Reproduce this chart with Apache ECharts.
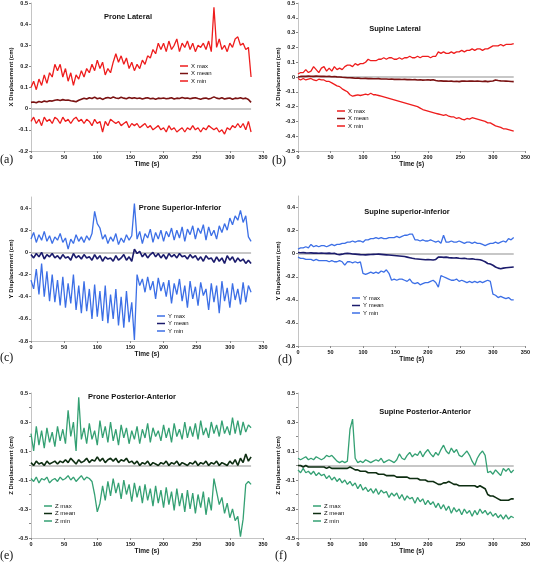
<!DOCTYPE html>
<html><head><meta charset="utf-8">
<script src="https://cdn.jsdelivr.net/npm/echarts@6/dist/echarts.min.js"></script>
<style>html,body{margin:0;padding:0;background:#fff}#c{width:533px;height:564px}</style>
</head><body><div id="c"></div><script>
const time=[0,4,8,12,16,20,24,28,32,36,40,44,48,52,56,60,64,68,72,76,80,84,88,92,96,100,104,108,112,116,120,124,128,132,136,140,144,148,152,156,160,164,168,172,176,180,184,188,192,196,200,204,208,212,216,220,224,228,232,236,240,244,248,252,256,260,264,268,272,276,280,284,288,292,296,300,304,308,312,316,320,324,328,332];

// (a) Prone Lateral
const xMaxProne=[0.10,0.13,0.09,0.14,0.11,0.16,0.12,0.17,0.15,0.21, 0.18,0.21,0.15,0.19,0.13,0.17,0.11,0.16,0.14,0.18, 0.15,0.19,0.17,0.21,0.18,0.23,0.19,0.22,0.16,0.19, 0.17,0.22,0.26,0.22,0.25,0.21,0.24,0.19,0.22,0.18, 0.21,0.19,0.23,0.21,0.25,0.24,0.28,0.26,0.31,0.28, 0.31,0.27,0.32,0.28,0.30,0.33,0.27,0.31,0.29,0.32, 0.28,0.31,0.27,0.30,0.29,0.31,0.28,0.32,0.27,0.48, 0.29,0.33,0.28,0.30,0.27,0.31,0.29,0.33,0.34,0.30, 0.31,0.28,0.29,0.15];
const xMeanProne=[0.030,0.032,0.028,0.034,0.031,0.036,0.033,0.038,0.036,0.040, 0.042,0.039,0.043,0.040,0.041,0.038,0.036,0.033,0.040,0.045, 0.050,0.046,0.052,0.048,0.055,0.047,0.051,0.044,0.050,0.053, 0.049,0.055,0.051,0.048,0.054,0.050,0.047,0.053,0.049,0.052, 0.048,0.051,0.046,0.050,0.052,0.047,0.049,0.045,0.050,0.048, 0.051,0.047,0.049,0.052,0.046,0.050,0.048,0.053,0.049,0.051, 0.047,0.050,0.052,0.048,0.045,0.049,0.051,0.046,0.050,0.056, 0.050,0.047,0.052,0.046,0.049,0.051,0.045,0.050,0.048,0.052, 0.047,0.050,0.044,0.030];
const xMinProne=[-0.06,-0.04,-0.07,-0.05,-0.08,-0.04,-0.06,-0.05,-0.07,-0.04, -0.05,-0.07,-0.04,-0.06,-0.05,-0.07,-0.05,-0.04,-0.06,-0.05, -0.07,-0.05,-0.06,-0.08,-0.05,-0.07,-0.06,-0.11,-0.06,-0.08, -0.05,-0.06,-0.07,-0.06,-0.08,-0.07,-0.06,-0.09,-0.07,-0.08, -0.07,-0.09,-0.08,-0.07,-0.09,-0.08,-0.10,-0.09,-0.08,-0.10, -0.09,-0.11,-0.08,-0.10,-0.09,-0.11,-0.10,-0.09,-0.11,-0.09, -0.10,-0.08,-0.10,-0.09,-0.11,-0.09,-0.10,-0.08,-0.09,-0.10, -0.09,-0.11,-0.10,-0.12,-0.09,-0.10,-0.08,-0.09,-0.07,-0.09, -0.07,-0.10,-0.06,-0.11];

// (b) Supine Lateral
const xMaxSupine=[0.02,0.03,0.03,0.05,0.03,0.04,0.07,0.05,0.03,0.06, 0.07,0.04,0.06,0.04,0.07,0.05,0.06,0.05,0.07,0.08, 0.08,0.07,0.09,0.08,0.09,0.09,0.10,0.12,0.11,0.11, 0.11,0.12,0.12,0.13,0.12,0.13,0.13,0.12,0.12,0.13, 0.12,0.13,0.13,0.14,0.13,0.13,0.14,0.13,0.14,0.14, 0.14,0.13,0.14,0.14,0.17,0.16,0.17,0.16,0.16,0.17, 0.16,0.17,0.17,0.18,0.17,0.18,0.18,0.19,0.18,0.19, 0.19,0.18,0.19,0.19,0.20,0.21,0.21,0.21,0.22,0.21, 0.22,0.22,0.22,0.225];
const xMeanSupine=[0.000,0.004,0.005,0.004,0.006,0.005,0.004,0.006,0.005,0.004, 0.005,0.003,0.004,0.002,0.003,0.001,0.000,-0.002,-0.003,-0.005, -0.005,-0.006,-0.008,-0.007,-0.009,-0.010,-0.009,-0.011,-0.010,-0.012, -0.012,-0.011,-0.013,-0.014,-0.013,-0.015,-0.014,-0.016,-0.015,-0.016, -0.017,-0.016,-0.018,-0.017,-0.019,-0.018,-0.020,-0.019,-0.021,-0.020, -0.019,-0.021,-0.018,-0.024,-0.027,-0.026,-0.028,-0.027,-0.029,-0.028, -0.030,-0.029,-0.031,-0.028,-0.027,-0.029,-0.028,-0.027,-0.029,-0.028, -0.029,-0.030,-0.028,-0.031,-0.029,-0.027,-0.020,-0.024,-0.026,-0.027, -0.028,-0.029,-0.030,-0.031];
const xMinSupine=[-0.01,-0.02,-0.01,-0.02,-0.015,-0.01,-0.02,-0.025,-0.015,-0.02, -0.02,-0.03,-0.03,-0.04,-0.05,-0.06,-0.065,-0.08,-0.09,-0.10, -0.12,-0.13,-0.125,-0.12,-0.125,-0.12,-0.115,-0.12,-0.11,-0.12, -0.12,-0.125,-0.13,-0.135,-0.14,-0.145,-0.15,-0.155,-0.16,-0.165, -0.17,-0.175,-0.18,-0.185,-0.19,-0.195,-0.20,-0.21,-0.22,-0.225, -0.23,-0.235,-0.24,-0.245,-0.25,-0.255,-0.26,-0.255,-0.265,-0.27, -0.27,-0.28,-0.275,-0.285,-0.29,-0.28,-0.285,-0.275,-0.28,-0.285, -0.29,-0.295,-0.30,-0.31,-0.31,-0.32,-0.33,-0.335,-0.34,-0.35, -0.35,-0.355,-0.36,-0.365];

// (c) Prone Superior-Inferior
const yMaxProne=[0.12,0.18,0.09,0.16,0.11,0.19,0.10,0.15,0.08,0.14, 0.11,0.17,0.09,0.13,0.03,0.12,0.08,0.16,0.10,0.14, 0.09,0.15,0.11,0.17,0.37,0.26,0.22,0.12,0.16,0.08, 0.14,0.10,0.17,0.07,0.13,0.09,0.16,0.11,0.15,0.44, 0.12,0.19,0.08,0.17,0.13,0.21,0.09,0.18,0.12,0.20, 0.10,0.19,0.14,0.22,0.11,0.20,0.13,0.23,0.10,0.21, 0.16,0.24,0.12,0.22,0.17,0.25,0.11,0.23,0.15,0.20, 0.12,0.24,0.18,0.26,0.20,0.31,0.25,0.33,0.29,0.38, 0.27,0.33,0.14,0.10];
const yMeanProne=[-0.02,-0.05,-0.01,-0.04,0.00,-0.06,-0.02,-0.04,-0.01,-0.05, -0.03,-0.06,-0.02,-0.05,-0.04,-0.07,-0.01,-0.05,-0.03,-0.06, -0.02,-0.05,-0.04,-0.07,-0.02,-0.06,-0.03,-0.08,-0.04,-0.06, -0.05,-0.08,-0.03,-0.07,-0.05,-0.02,-0.07,-0.04,-0.08,0.03, -0.01,0.01,-0.04,-0.01,-0.05,-0.02,0.00,-0.04,-0.01,-0.05, -0.02,-0.06,-0.01,-0.04,-0.02,-0.05,-0.01,-0.04,-0.03,-0.06, -0.02,-0.05,-0.03,-0.07,-0.04,-0.08,-0.03,-0.06,-0.05,-0.09, -0.04,-0.08,-0.05,-0.10,-0.03,-0.07,-0.04,-0.09,-0.05,-0.08, -0.06,-0.10,-0.07,-0.10];
const yMinProne=[-0.25,-0.33,-0.15,-0.38,-0.10,-0.40,-0.17,-0.44,-0.20,-0.45, -0.25,-0.48,-0.22,-0.50,-0.28,-0.46,-0.20,-0.52,-0.30,-0.55, -0.26,-0.53,-0.33,-0.60,-0.29,-0.58,-0.35,-0.62,-0.30,-0.64, -0.38,-0.60,-0.33,-0.66,-0.40,-0.68,-0.35,-0.63,-0.45,-0.79, -0.20,-0.30,-0.24,-0.36,-0.22,-0.34,-0.26,-0.42,-0.23,-0.35, -0.27,-0.40,-0.25,-0.46,-0.28,-0.38,-0.24,-0.44,-0.30,-0.50, -0.26,-0.42,-0.31,-0.48,-0.27,-0.39,-0.33,-0.52,-0.28,-0.45, -0.30,-0.55,-0.26,-0.44,-0.32,-0.50,-0.28,-0.43,-0.33,-0.47, -0.27,-0.45,-0.30,-0.36];

// (d) Supine superior-inferior
const yMaxSupine=[0.04,0.05,0.05,0.06,0.05,0.08,0.06,0.07,0.06,0.07, 0.07,0.06,0.07,0.08,0.07,0.08,0.08,0.09,0.09,0.10, 0.10,0.11,0.10,0.11,0.11,0.10,0.12,0.12,0.13,0.13, 0.14,0.13,0.14,0.13,0.13,0.14,0.14,0.14,0.15,0.14, 0.15,0.16,0.16,0.17,0.17,0.12,0.12,0.11,0.12,0.11, 0.11,0.12,0.11,0.10,0.11,0.09,0.16,0.10,0.10,0.11, 0.10,0.10,0.11,0.10,0.09,0.10,0.10,0.09,0.10,0.09, 0.09,0.08,0.07,0.08,0.09,0.09,0.10,0.09,0.10,0.11, 0.10,0.13,0.12,0.14];
const yMeanSupine=[0.010,0.008,0.009,0.007,0.006,0.007,0.005,0.006,0.004,0.005, 0.004,0.003,0.005,0.002,0.003,-0.005,-0.008,-0.004,0.002,0.004, 0.002,-0.002,-0.004,-0.006,-0.008,-0.009,-0.010,-0.008,-0.007,-0.006, -0.005,-0.004,-0.006,-0.008,-0.010,-0.012,-0.014,-0.016,-0.018,-0.020, -0.022,-0.025,-0.030,-0.035,-0.040,-0.044,-0.046,-0.048,-0.050,-0.052, -0.050,-0.052,-0.054,-0.050,-0.030,-0.028,-0.032,-0.030,-0.034,-0.036, -0.038,-0.036,-0.040,-0.042,-0.040,-0.044,-0.046,-0.044,-0.048,-0.050, -0.052,-0.060,-0.070,-0.085,-0.090,-0.100,-0.115,-0.125,-0.130,-0.125, -0.122,-0.120,-0.118,-0.116];
const yMinSupine=[-0.03,-0.04,-0.04,-0.05,-0.05,-0.05,-0.06,-0.05,-0.06,-0.06, -0.06,-0.06,-0.07,-0.06,-0.07,-0.07,-0.06,-0.07,-0.10,-0.07, -0.07,-0.08,-0.07,-0.08,-0.07,-0.17,-0.18,-0.17,-0.16,-0.17, -0.16,-0.17,-0.15,-0.16,-0.14,-0.17,-0.23,-0.22,-0.23,-0.22, -0.22,-0.23,-0.24,-0.22,-0.25,-0.26,-0.25,-0.27,-0.26,-0.25, -0.25,-0.24,-0.23,-0.25,-0.29,-0.19,-0.20,-0.21,-0.22,-0.23, -0.23,-0.22,-0.24,-0.23,-0.24,-0.25,-0.24,-0.25,-0.24,-0.25, -0.24,-0.25,-0.24,-0.23,-0.24,-0.35,-0.36,-0.38,-0.37,-0.38, -0.39,-0.38,-0.40,-0.40];

// (e) Prone Posterior-Anterior
const zMaxProne=[0.22,0.10,0.27,0.14,0.24,0.12,0.26,0.16,0.23,0.13, 0.27,0.17,0.25,0.15,0.38,0.20,0.30,0.10,0.47,0.18, 0.26,0.15,0.29,0.18,0.24,0.14,0.31,0.19,0.27,0.16, 0.30,0.17,0.25,0.14,0.28,0.19,0.26,0.15,0.24,0.18, 0.27,0.15,0.25,0.19,0.29,0.16,0.26,0.20,0.24,0.17, 0.28,0.19,0.26,0.16,0.29,0.20,0.25,0.18,0.30,0.19, 0.27,0.20,0.29,0.18,0.31,0.21,0.26,0.19,0.30,0.22, 0.28,0.20,0.31,0.22,0.27,0.21,0.33,0.22,0.31,0.21, 0.30,0.23,0.28,0.26];
const zMeanProne=[0.02,0.00,0.03,0.01,0.02,0.00,0.03,0.01,0.02,0.03, 0.01,0.03,0.02,0.04,0.02,0.05,0.03,0.01,0.04,0.02, 0.03,0.05,0.02,0.04,0.03,0.06,0.03,0.05,0.02,0.04, 0.05,0.03,0.05,0.02,0.04,0.03,0.05,0.02,0.03,0.01, 0.03,0.00,0.02,0.01,0.03,0.00,0.02,0.01,0.00,0.02, 0.01,0.03,0.00,0.02,0.01,0.03,0.00,0.02,0.01,0.00, 0.02,0.01,0.03,0.00,0.02,0.01,0.03,0.00,0.02,0.01, 0.03,0.00,0.02,0.01,0.00,0.03,0.01,0.04,0.00,0.05, 0.02,0.08,0.03,0.06];
const zMinProne=[-0.09,-0.11,-0.08,-0.12,-0.09,-0.10,-0.08,-0.12,-0.10,-0.09, -0.11,-0.08,-0.10,-0.09,-0.07,-0.10,-0.08,-0.11,-0.09,-0.07, -0.10,-0.08,-0.09,-0.11,-0.20,-0.32,-0.26,-0.14,-0.24,-0.11, -0.21,-0.09,-0.19,-0.12,-0.23,-0.10,-0.20,-0.13,-0.25,-0.12, -0.22,-0.14,-0.26,-0.13,-0.24,-0.16,-0.28,-0.14,-0.26,-0.17, -0.29,-0.15,-0.27,-0.18,-0.31,-0.16,-0.28,-0.19,-0.32,-0.17, -0.30,-0.19,-0.33,-0.20,-0.29,-0.18,-0.34,-0.22,-0.31,-0.09, -0.18,-0.27,-0.22,-0.33,-0.26,-0.36,-0.30,-0.38,-0.35,-0.49, -0.37,-0.13,-0.11,-0.13];

// (f) Supine Posterior-Anterior
const zMaxSupine=[0.05,0.04,0.05,0.06,0.04,0.05,0.04,0.06,0.05,0.04, 0.05,0.07,0.06,0.07,0.05,0.03,0.02,0.03,0.02,0.03, 0.25,0.32,0.05,0.02,0.03,0.02,0.04,0.03,0.02,0.03, 0.04,0.03,0.05,0.02,0.03,0.04,0.03,0.02,0.04,0.08, 0.05,0.04,0.07,0.09,0.06,0.08,0.07,0.10,0.06,0.09, 0.11,0.08,0.06,0.09,0.07,0.11,0.14,0.10,0.08,0.12, 0.09,0.11,0.07,0.06,0.08,0.10,0.07,0.03,0.00,0.05, 0.08,0.10,0.07,-0.05,-0.04,-0.06,-0.03,-0.05,-0.07,-0.02, -0.04,-0.02,-0.05,-0.03];
const zMeanSupine=[0.00,0.00,-0.01,0.00,-0.01,-0.01,-0.01,-0.01,-0.01,-0.01, -0.01,-0.02,-0.01,-0.02,-0.02,-0.02,-0.02,-0.02,-0.02,-0.02, -0.01,-0.02,-0.03,-0.03,-0.04,-0.04,-0.04,-0.05,-0.05,-0.05, -0.05,-0.06,-0.06,-0.06,-0.07,-0.07,-0.07,-0.07,-0.08,-0.08, -0.08,-0.08,-0.08,-0.09,-0.09,-0.09,-0.09,-0.10,-0.10,-0.10, -0.11,-0.11,-0.11,-0.12,-0.13,-0.13,-0.12,-0.12,-0.11,-0.12, -0.13,-0.13,-0.14,-0.14,-0.14,-0.14,-0.14,-0.14,-0.14,-0.15, -0.14,-0.15,-0.16,-0.20,-0.21,-0.21,-0.22,-0.23,-0.24,-0.24, -0.24,-0.24,-0.23,-0.23];
const zMinSupine=[-0.03,-0.05,-0.02,-0.05,-0.04,-0.06,-0.04,-0.07,-0.05,-0.07, -0.06,-0.09,-0.07,-0.10,-0.08,-0.11,-0.09,-0.12,-0.10,-0.13, -0.11,-0.14,-0.12,-0.16,-0.13,-0.17,-0.15,-0.18,-0.16,-0.19, -0.16,-0.20,-0.17,-0.19,-0.18,-0.22,-0.19,-0.21,-0.19,-0.23, -0.20,-0.24,-0.21,-0.23,-0.22,-0.26,-0.22,-0.25,-0.23,-0.27, -0.24,-0.27,-0.25,-0.29,-0.26,-0.30,-0.27,-0.31,-0.28,-0.33, -0.29,-0.32,-0.30,-0.34,-0.30,-0.33,-0.31,-0.35,-0.31,-0.34, -0.30,-0.33,-0.31,-0.34,-0.32,-0.35,-0.33,-0.36,-0.34,-0.37, -0.34,-0.37,-0.35,-0.36];

const RED='#ee1d1d', DRED='#7a1212', BLUE='#3c6fe6', NAVY='#1b1b6c', GREEN='#34a073', DGREEN='#0e2e12';
const FONT='"Liberation Sans", Arial, sans-serif';

const panels=[
 {grid:{left:31,top:2,width:232,height:149}, y:{min:-0.2,max:0.5,interval:0.1}, yname:'X Displacement (cm)',
  s:[['X max',xMaxProne,RED],['X mean',xMeanProne,DRED],['X min',xMinProne,RED]],
  title:'Prone Lateral',tx:128,ty:17,lg:{left:180,top:63},letter:'(a)',lx:0,ly:160},
 {grid:{left:298,top:2,width:230,height:149}, y:{min:-0.5,max:0.5,interval:0.1}, yname:'X Displacement (cm)',
  s:[['X max',xMaxSupine,RED],['X mean',xMeanSupine,DRED],['X min',xMinSupine,RED]],
  title:'Supine Lateral',tx:395,ty:29,lg:{left:337,top:108},letter:'(b)',lx:272,ly:161},
 {grid:{left:31,top:197,width:232,height:144}, y:{min:-0.8,max:0.5,interval:0.2,hideMax:true}, yname:'Y Displacement (cm)',
  s:[['Y max',yMaxProne,BLUE],['Y mean',yMeanProne,NAVY],['Y min',yMinProne,BLUE]],
  title:'Prone Superior-Inferior',tx:180,ty:208,lg:{left:157,top:313},letter:'(c)',lx:0,ly:358},
 {grid:{left:298,top:196,width:230,height:150}, y:{min:-0.8,max:0.5,interval:0.2,hideMax:true}, yname:'Y Displacement (cm)',
  s:[['Y max',yMaxSupine,BLUE],['Y mean',yMeanSupine,NAVY],['Y min',yMinSupine,BLUE]],
  title:'Supine superior-inferior',tx:407,ty:212,lg:{left:352,top:295},letter:'(d)',lx:278,ly:360},
 {grid:{left:31,top:393,width:232,height:145}, y:{min:-0.5,max:0.5,interval:0.1,odd:true}, yname:'Z Displacement (cm)',
  s:[['Z max',zMaxProne,GREEN],['Z mean',zMeanProne,DGREEN],['Z min',zMinProne,GREEN]],
  title:'Prone Posterior-Anterior',tx:132,ty:397,lg:{left:44,top:503},letter:'(e)',lx:0,ly:556},
 {grid:{left:298,top:393,width:230,height:145}, y:{min:-0.5,max:0.5,interval:0.1,odd:true}, yname:'Z Displacement (cm)',
  s:[['Z max',zMaxSupine,GREEN],['Z mean',zMeanSupine,DGREEN],['Z min',zMinSupine,GREEN]],
  title:'Supine Posterior-Anterior',tx:425,ty:412,lg:{left:313,top:503},letter:'(f)',lx:275,ly:556}
];

function pts(vals){return vals.map((v,i)=>[time[i],v]);}

const option={animation:false,backgroundColor:'#fff',grid:[],xAxis:[],yAxis:[],series:[],legend:[],graphic:[]};
panels.forEach((p,k)=>{
  option.grid.push(p.grid);
  option.xAxis.push({type:'value',gridIndex:k,min:0,max:350,interval:50,
    name:'Time (s)',nameLocation:'middle',nameGap:9,
    nameTextStyle:{fontSize:6.5,fontWeight:'bold',fontFamily:FONT,color:'#111'},
    axisLine:{onZero:false,lineStyle:{color:'#c4c4c4',width:1}},
    axisTick:{length:2,lineStyle:{color:'#888'}},
    axisLabel:{fontSize:5.5,fontWeight:'bold',fontFamily:FONT,color:'#111',margin:3},
    splitLine:{show:false}});
  const yl={fontSize:5.5,fontWeight:'bold',fontFamily:FONT,color:'#111',margin:3,showMaxLabel:!p.y.hideMax};
  if(p.y.odd){yl.formatter=function(v){const q=Math.round(v*10);return Math.abs(q)%2===1?String(q/10):'';};}
  option.yAxis.push({type:'value',gridIndex:k,min:p.y.min,max:p.y.max,interval:p.y.interval,
    name:p.yname,nameLocation:'middle',nameGap:16,
    nameTextStyle:{fontSize:6,fontWeight:'bold',fontFamily:FONT,color:'#111'},
    axisLine:{show:true,lineStyle:{color:'#c4c4c4',width:1}},
    axisTick:{show:true,length:2,lineStyle:{color:'#888'}},
    axisLabel:yl,splitLine:{show:false}});
  p.s.forEach((s,j)=>{
    const ser={type:'line',name:s[0],xAxisIndex:k,yAxisIndex:k,data:pts(s[1]),
      symbol:'none',showSymbol:false,lineStyle:{color:s[2],width:j===1?1.6:1.3},itemStyle:{color:s[2]},z:3+j};
    if(j===1){ser.markLine={silent:true,symbol:'none',z:1,label:{show:false},
      lineStyle:{color:'#b5b5b5',width:1.5,type:'solid'},
      data:[[{coord:[time[0],0]},{coord:[time[time.length-1],0]}]]};}
    option.series.push(ser);
  });
  option.legend.push({left:p.lg.left,top:p.lg.top,orient:'vertical',data:p.s.map(s=>s[0]),
    icon:'rect',itemWidth:8,itemHeight:1.5,itemGap:1.5,selectedMode:false,padding:0,
    textStyle:{fontSize:6,fontFamily:FONT,color:'#111',padding:[0,0,0,-2]}});
  option.graphic.push({type:'text',x:p.tx,y:p.ty,style:{text:p.title,fontSize:7.5,fontWeight:'bold',fontFamily:FONT,fill:'#111',textAlign:'center',textVerticalAlign:'middle'}});
  option.graphic.push({type:'text',x:p.lx,y:p.ly,style:{text:p.letter,fontSize:12,fontFamily:'"Liberation Serif","DejaVu Serif",serif',fill:'#111',textAlign:'left',textVerticalAlign:'middle'}});
});
const chart=echarts.init(document.getElementById('c'),null,{renderer:'canvas'});
chart.setOption(option);
</script></body></html>
